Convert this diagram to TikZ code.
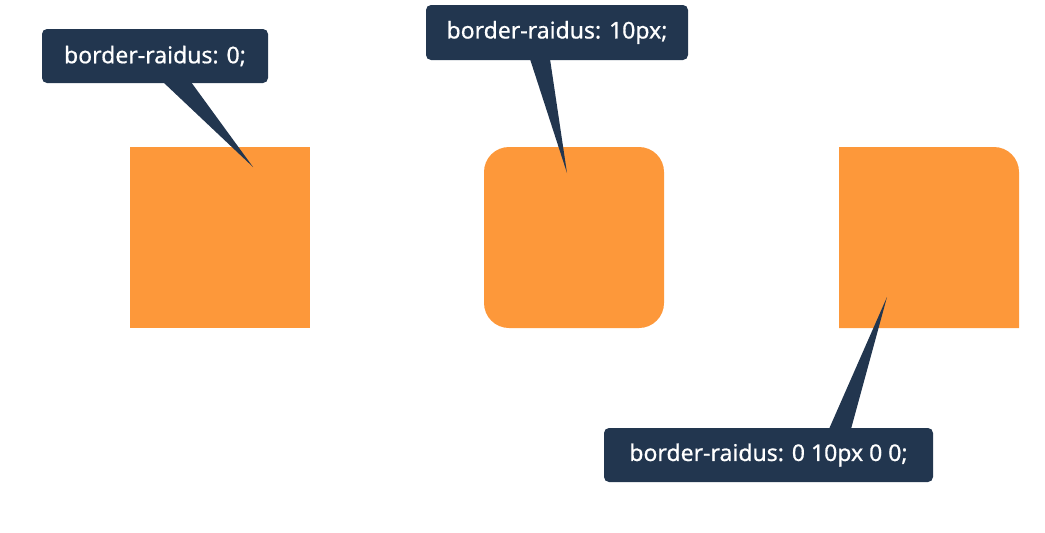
\documentclass[tikz,border=0pt]{standalone}
\usepackage{fontspec}
\setmainfont{Noto Sans}[FakeBold=0.6]
\definecolor{navy}{HTML}{22364F}
\definecolor{orng}{HTML}{FD983A}
\begin{document}
\begin{tikzpicture}[x=1pt,y=-1pt,
  sq/.style={fill=orng,draw=none},
  tip/.style={fill=navy,draw=none},
  label/.style={fill=navy,text=white,rounded corners=5pt,inner sep=0pt,font=\fontsize{23}{26}\selectfont}]
\useasboundingbox (0,0) rectangle (1045,533);
% squares
\fill[sq] (130,147) rectangle (310,328);
\coordinate (s1) at (220,237);
\fill[sq,rounded corners=25pt] (484,147) rectangle (664,328);
\coordinate (s2) at (574,237);
\fill[sq] (839,147) -- (994,147) arc[start angle=-90,end angle=0,radius=25] -- (1019,328) -- (839,328) -- cycle;
\coordinate (s3) at (929,237);
% callout 1
\coordinate (t1) at (253,167);
\fill[tip] (163,82) -- (t1) -- (191,82) -- cycle;
\node[label,minimum width=226pt,minimum height=54pt] (b1) at (155,56) {border-raidus: 0;};
% callout 2
\coordinate (t2) at (567,173);
\fill[tip] (530,59) -- (t2) -- (550,59) -- cycle;
\node[label,minimum width=262pt,minimum height=55pt] (b2) at (557,32.5) {border-raidus: 10px;};
% callout 3
\coordinate (t3) at (887,297);
\fill[tip] (829,429) -- (t3) -- (851,429) -- cycle;
\node[label,minimum width=329pt,minimum height=54pt] (b3) at (768.5,455) {border-raidus: 0 10px 0 0;};
\end{tikzpicture}
\end{document}
